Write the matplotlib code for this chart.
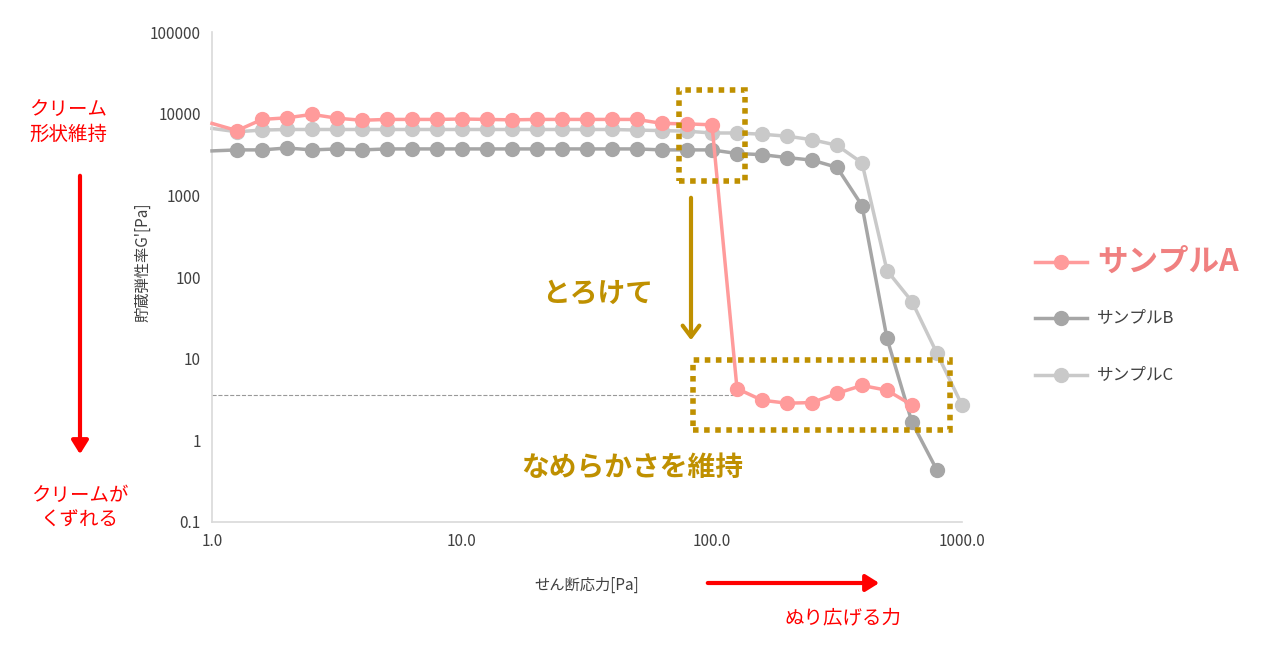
import matplotlib
matplotlib.use("Agg")
import matplotlib.pyplot as plt
import numpy as np
from matplotlib.patches import Rectangle, FancyArrowPatch
from matplotlib.ticker import FixedLocator, FixedFormatter, NullLocator

plt.rcParams['font.family'] = ['Noto Sans CJK JP', 'DejaVu Sans']

# stress steps: 10^(k/10)
k_A = list(range(0, 29))
A = [7600, 6200, 8500, 8900, 9800, 8800, 8300, 8500, 8500, 8500, 8600, 8500, 8400, 8500, 8500, 8500, 8500, 8500, 7600, 7500, 7300,
     4.3, 3.1, 2.85, 2.9, 3.76, 4.7, 4.1, 2.7]
k_B = list(range(0, 30))
B = [3500, 3600, 3600, 3800, 3600, 3700, 3600, 3700, 3700, 3700, 3700, 3700, 3700, 3700, 3700, 3700, 3700, 3700, 3600, 3600, 3600,
     3250, 3150, 2900, 2700, 2200, 750, 17.7, 1.66, 0.43]
k_C = list(range(0, 31))
C = [6600, 6000, 6300, 6400, 6400, 6400, 6400, 6400, 6400, 6400, 6400, 6400, 6400, 6400, 6400, 6400, 6400, 6300, 6200, 6100, 5800,
     5800, 5600, 5300, 4800, 4100, 2500, 120, 50, 11.6, 2.7]
names = ['サンプルA', 'サンプルB', 'サンプルC']
colors = ['#FF9B9B', '#A6A6A6', '#C9C9C9']
xticks = [1, 10, 100, 1000]
xtlabels = ['1.0', '10.0', '100.0', '1000.0']
yticks = [0.1, 1, 10, 100, 1000, 10000, 100000]
ytlabels = ['0.1', '1', '10', '100', '1000', '10000', '100000']
gold = '#BF9000'
red = '#FF0000'

W, H = 1280, 652
fig = plt.figure(figsize=(12.8, 6.52), dpi=100)
ax = fig.add_axes([212/W, 1-522/H, 750/W, 490/H])
ax.set_xscale('log'); ax.set_yscale('log')
ax.set_xlim(1, 1000); ax.set_ylim(0.1, 100000)

for ks, ys, c, z in [(k_C, C, colors[2], 2), (k_B, B, colors[1], 3), (k_A, A, colors[0], 4)]:
    xs = [10**(k/10) for k in ks]
    ax.plot(xs, ys, color=c, lw=2.5, zorder=z)
    ax.plot(xs[1:], ys[1:], 'o', color=c, ms=10, zorder=z)

ax.plot([1, 126], [3.6, 3.6], ls='--', color='#999999', lw=0.8, zorder=1)

for s in ['top', 'right']:
    ax.spines[s].set_visible(False)
for s in ['left', 'bottom']:
    ax.spines[s].set_color('#D9D9D9'); ax.spines[s].set_linewidth(1.2)
ax.xaxis.set_major_locator(FixedLocator(xticks)); ax.xaxis.set_major_formatter(FixedFormatter(xtlabels))
ax.yaxis.set_major_locator(FixedLocator(yticks)); ax.yaxis.set_major_formatter(FixedFormatter(ytlabels))
ax.xaxis.set_minor_locator(NullLocator()); ax.yaxis.set_minor_locator(NullLocator())
ax.tick_params(length=0, labelsize=11, colors='#404040', pad=8)
ax.set_clip_on(False)
for l in ax.lines:
    l.set_clip_on(False)

def fx(x): return x/W
def fy(y): return 1-y/H

fig.text(fx(143), fy(262), "貯蔵弾性率G'[Pa]", rotation=90, ha='center', va='center', fontsize=11, color='#404040')
fig.text(fx(587), fy(585), "せん断応力[Pa]", ha='center', va='center', fontsize=11, color='#404040')

# legend
for i, (yy, fs, wt) in enumerate([(262, 22, 'bold'), (318, 12, 'normal'), (375, 12, 'normal')]):
    fig.add_artist(plt.Line2D([fx(1035), fx(1087)], [fy(yy), fy(yy)], color=colors[i], lw=2.5))
    fig.add_artist(plt.Line2D([fx(1061)], [fy(yy)], marker='o', color=colors[i], ms=10))
    fig.text(fx(1097), fy(yy), names[i], ha='left', va='center', fontsize=fs, fontweight=wt,
             color='#F08080' if i == 0 else '#404040')

# red annotations
fig.text(fx(68), fy(122), "クリーム\n形状維持", ha='center', va='center', fontsize=14, color=red, linespacing=1.2)
fig.text(fx(80), fy(508), "クリームが\nくずれる", ha='center', va='center', fontsize=14, color=red, linespacing=1.2)
fig.text(fx(843), fy(618), "ぬり広げる力", ha='center', va='center', fontsize=14, color=red)
fig.add_artist(FancyArrowPatch((fx(80), fy(173)), (fx(80), fy(457)), transform=fig.transFigure,
               arrowstyle='-|>,head_length=8,head_width=5', color=red, lw=3))
fig.add_artist(FancyArrowPatch((fx(705), fy(583)), (fx(882), fy(583)), transform=fig.transFigure,
               arrowstyle='-|>,head_length=8,head_width=5', color=red, lw=3))

# gold annotations
for (x0, y0, x1, y1) in [(679, 90, 745, 181), (693, 360, 950, 430)]:
    fig.add_artist(Rectangle((fx(x0), fy(y1)), (x1-x0)/W, (y1-y0)/H, transform=fig.transFigure,
                             fill=False, ec=gold, lw=4, ls=(0, (1, 1))))
fig.add_artist(FancyArrowPatch((fx(691), fy(195)), (fx(691), fy(343)), transform=fig.transFigure,
               arrowstyle='->,head_length=8,head_width=6', color=gold, lw=3))
fig.text(fx(598), fy(293), "とろけて", ha='center', va='center', fontsize=20, fontweight='bold', color=gold)
fig.text(fx(632), fy(468), "なめらかさを維持", ha='center', va='center', fontsize=20, fontweight='bold', color=gold)

fig.savefig('out.png', dpi=100)
